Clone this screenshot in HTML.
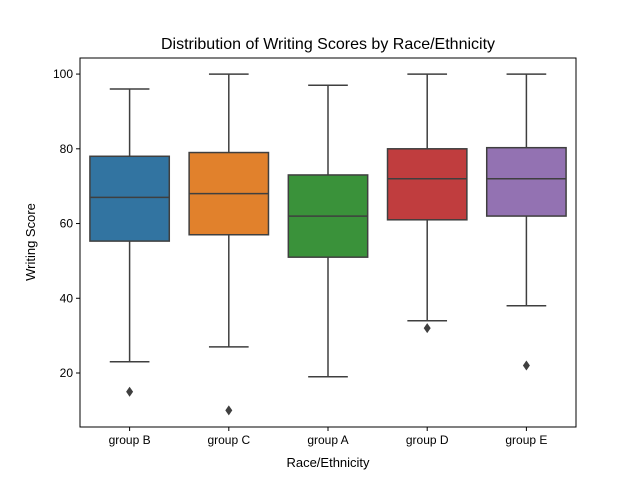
<!DOCTYPE html>
<html><head><meta charset="utf-8"><style>body{margin:0;background:#fff}svg{font-family:"Liberation Sans","DejaVu Sans",sans-serif}</style></head>
<body>
<svg id="chart" width="640" height="480">
<rect width="640" height="480" fill="#fff"/>
<text x="328" y="49" text-anchor="middle" font-size="16">Distribution of Writing Scores by Race/Ethnicity</text>
<g id="plot"></g>
<rect x="80" y="58" width="496" height="369" fill="none" stroke="#000" stroke-width="1"/>
<text x="328" y="467" text-anchor="middle" font-size="13">Race/Ethnicity</text>
<text x="0" y="0" transform="translate(35,242) rotate(-90)" text-anchor="middle" font-size="13">Writing Score</text>
</svg>
<script>
const categories=["group B","group C","group A","group D","group E"];
const whiskerLow=[23,27,19,34,38];
const q1=[55.3,57,51,61,62];
const medians=[67,68,62,72,72];
const q3=[78,79,73,80,80.3];
const whiskerHigh=[96,100,97,100,100];
const outliers=[[15],[10],[],[32],[22]];
const yTicks=[20,40,60,80,100];
const colors=["#3274a1","#e1812c","#3a923a","#c03d3e","#9372b2"];
const NS="http://www.w3.org/2000/svg";
const L=80,R=576,T=58,B=427,ymin=5.55,ymax=104.3;
const y=v=>B-(v-ymin)/(ymax-ymin)*(B-T);
const bw=(R-L)/categories.length;
const x=i=>L+bw*(i+0.5);
const g=document.getElementById('plot');
function mk(t,a){const e=document.createElementNS(NS,t);for(const k in a)e.setAttribute(k,a[k]);g.appendChild(e);return e;}
yTicks.forEach(v=>{
 const t=mk('line',{x1:L-4,x2:L,y1:y(v),y2:y(v),stroke:'#000'});
 
 
 const l=mk('text',{x:L-7,y:y(v)+4,'text-anchor':'end','font-size':'12'});l.textContent=v;
 
 
});
categories.forEach((c,i)=>{
 const cx=x(i),w=bw*0.8,st='#3f3f3f';
 const t=mk('line',{x1:cx,x2:cx,y1:B,y2:B+4,stroke:'#000'});
 
 
 const l=mk('text',{x:cx,y:B+17,'text-anchor':'middle','font-size':'12'});l.textContent=c;
 
 
 const wl=mk('line',{x1:cx,x2:cx,y1:y(whiskerLow[i]),y2:y(q1[i]),stroke:st,'stroke-width':1.5});
 
 
 const wh=mk('line',{x1:cx,x2:cx,y1:y(q3[i]),y2:y(whiskerHigh[i]),stroke:st,'stroke-width':1.5});
 
 
 [whiskerLow[i],whiskerHigh[i]].forEach(v=>{
  const cp=mk('line',{x1:cx-w/4,x2:cx+w/4,y1:y(v),y2:y(v),stroke:st,'stroke-width':1.5});
  
  
 });
 const b=mk('rect',{x:cx-w/2,y:y(q3[i]),width:w,height:y(q1[i])-y(q3[i]),fill:colors[i],stroke:st,'stroke-width':1.5});
 
 
 const m=mk('line',{x1:cx-w/2,x2:cx+w/2,y1:y(medians[i]),y2:y(medians[i]),stroke:st,'stroke-width':1.5});
 
 
 outliers[i].forEach(v=>{
  const yy=y(v);
  const o=mk('polygon',{points:`${cx},${yy-5} ${cx+3.5},${yy} ${cx},${yy+5} ${cx-3.5},${yy}`,fill:st});
  
  
 });
});
</script>
</body></html>
